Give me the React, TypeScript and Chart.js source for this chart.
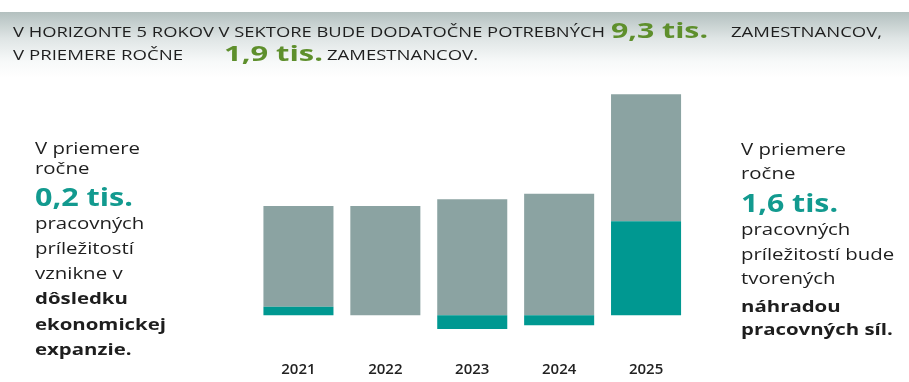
import React, { useEffect, useRef } from "react";
import { Chart, registerables } from "chart.js";

Chart.register(...registerables);

const years = ["2021", "2022", "2023", "2024", "2025"];
const expansion = [120, 0, -191, -139, 1309];
const replacement = [1402, 1521, 1615, 1693, 1768];

const GREY = "#8ba3a2";
const TEAL = "#009891";
const GREEN = "#5e8f2c";
const TEAL_TEXT = "#129a8f";
const DARK = "#1e1e1e";

let measureCtx: CanvasRenderingContext2D | null = null;
function measure(font: string, text: string) {
  if (!measureCtx) measureCtx = document.createElement("canvas").getContext("2d");
  const ctx = measureCtx!;
  ctx.font = font;
  const m = ctx.measureText(text);
  return {
    w: m.width,
    a: m.fontBoundingBoxAscent ?? 0.9 * parseFloat(font.match(/(\d+(\.\d+)?)px/)![1]),
    d: m.fontBoundingBoxDescent ?? 0.25 * parseFloat(font.match(/(\d+(\.\d+)?)px/)![1]),
  };
}

type TProps = { text: string; x: number; base: number; font: string; color: string; width?: number; scale?: number };
function T({ text, x, base, font, color, width, scale }: TProps) {
  const m = measure(font, text);
  const s = width ? width / m.w : scale ?? 1;
  const lh = m.a + m.d;
  return (
    <div
      style={{
        position: "absolute",
        left: x,
        top: base - m.a,
        height: lh,
        lineHeight: lh + "px",
        font,
        color,
        whiteSpace: "pre",
        transformOrigin: "0 0",
        transform: `scaleX(${s})`,
      }}
    >
      {text}
    </div>
  );
}

const HF = '15px "Open Sans"';
const NUMF = '700 22px "Open Sans"';
const SF = '16px "Open Sans"';
const SFB = '700 16px "Open Sans"';
const BIGF = '700 25px "Open Sans"';

export default function App() {
  const ref = useRef<HTMLCanvasElement>(null);
  useEffect(() => {
    document.body.style.margin = "0";
    const chart = new Chart(ref.current!, {
      type: "bar",
      data: {
        labels: years,
        datasets: [
          { label: "expanzia", data: expansion, backgroundColor: TEAL, borderWidth: 0 },
          { label: "náhrada", data: replacement, backgroundColor: GREY, borderWidth: 0 },
        ],
      },
      options: {
        animation: false,
        responsive: false,
        events: [],
        layout: { padding: { left: 255, right: 219.5, top: 85.4, bottom: 0 } },
        datasets: { bar: { categoryPercentage: 1, barPercentage: 0.806 } },
        plugins: { legend: { display: false }, tooltip: { enabled: false } },
        scales: {
          x: {
            stacked: true,
            grid: { display: false, drawTicks: false },
            border: { display: false },
            ticks: { padding: 17, color: "#222", font: { family: "Open Sans", size: 15, weight: "600" } },
            afterFit: (scale: any) => {
              scale.height = 38;
            },
          },
          y: { stacked: true, display: false, min: -400, max: 3200 },
        },
      },
    });
    return () => chart.destroy();
  }, []);

  const lsScale = 105 / measure(SF, "V priemere").w;

  return (
    <div style={{ position: "absolute", left: 0, top: 0, width: 909, height: 382, background: "#fff", overflow: "hidden" }}>
      <div
        style={{
          position: "absolute",
          left: 0,
          top: 12,
          width: 909,
          height: 66,
          background: "linear-gradient(to bottom, #b3c0bf 0%, #dfe5e5 40%, #f7f9f9 75%, #ffffff 100%)",
        }}
      />
      <canvas ref={ref} width={909} height={382} style={{ position: "absolute", left: 0, top: 0 }} />

      <T text="V HORIZONTE 5 ROKOV V SEKTORE BUDE DODATOČNE POTREBNÝCH" x={13} base={37} font={HF} color={DARK} width={592} />
      <T text="9,3 tis." x={611} base={38} font={NUMF} color={GREEN} width={97} />
      <T text="ZAMESTNANCOV," x={731} base={37} font={HF} color={DARK} width={151} />
      <T text="V PRIEMERE ROČNE" x={13} base={60} font={HF} color={DARK} width={170} />
      <T text="1,9 tis." x={224} base={61} font={NUMF} color={GREEN} width={99} />
      <T text="ZAMESTNANCOV." x={327} base={60} font={HF} color={DARK} width={151} />

      <T text="V priemere" x={35} base={154} font={SF} color={DARK} scale={lsScale} />
      <T text="ročne" x={35} base={174} font={SF} color={DARK} scale={lsScale} />
      <T text="0,2 tis." x={35} base={206} font={BIGF} color={TEAL_TEXT} width={98} />
      <T text="pracovných" x={35} base={229} font={SF} color={DARK} scale={lsScale} />
      <T text="príležitostí" x={35} base={254} font={SF} color={DARK} scale={lsScale} />
      <T text="vznikne v" x={35} base={279} font={SF} color={DARK} scale={lsScale} />
      <T text="dôsledku" x={35} base={304} font={SFB} color={DARK} scale={lsScale} />
      <T text="ekonomickej" x={35} base={330} font={SFB} color={DARK} scale={lsScale} />
      <T text="expanzie." x={35} base={355} font={SFB} color={DARK} scale={lsScale} />

      <T text="V priemere" x={741} base={155} font={SF} color={DARK} scale={lsScale} />
      <T text="ročne" x={741} base={179} font={SF} color={DARK} scale={lsScale} />
      <T text="1,6 tis." x={741} base={212} font={BIGF} color={TEAL_TEXT} width={97} />
      <T text="pracovných" x={741} base={235} font={SF} color={DARK} scale={lsScale} />
      <T text="príležitostí bude" x={741} base={260} font={SF} color={DARK} scale={lsScale} />
      <T text="tvorených" x={741} base={284} font={SF} color={DARK} scale={lsScale} />
      <T text="náhradou" x={741} base={312} font={SFB} color={DARK} scale={lsScale} />
      <T text="pracovných síl." x={741} base={335} font={SFB} color={DARK} scale={lsScale} />
    </div>
  );
}
